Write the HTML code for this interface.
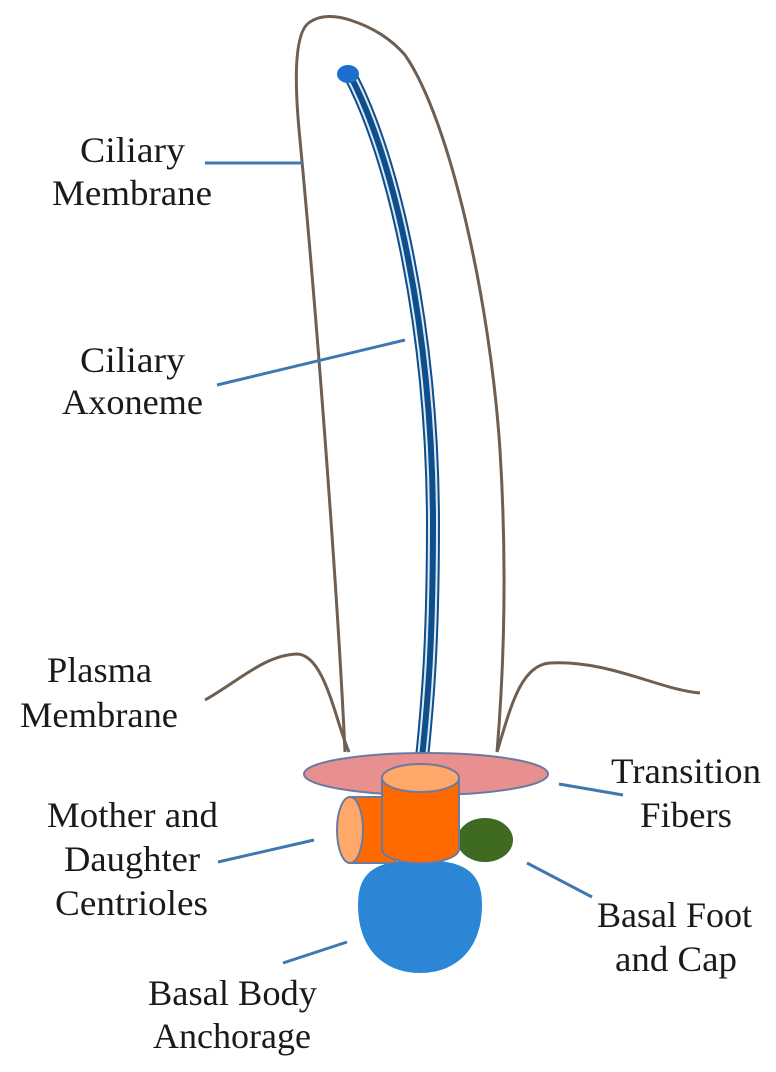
<!DOCTYPE html>
<html><head><meta charset="utf-8"><style>
html,body{margin:0;padding:0;background:#fff;}
svg{display:block;}
text{font-family:"Liberation Serif",serif;font-size:36px;fill:#1a1a1a;}
</style></head><body>
<svg width="776" height="1072" viewBox="0 0 776 1072" xmlns="http://www.w3.org/2000/svg">
<!-- ciliary membrane -->
<path d="M345,752 C338,600 318,330 300,140 C293,70 296,30 310,22 C320,15 335,15 350,20 C375,28 392,40 405,55 C450,120 490,300 500,450 C508,580 503,680 497,752" fill="none" stroke="#6e5f52" stroke-width="3"/>
<!-- plasma membrane -->
<path d="M205,700 C240,680 265,655 297,654 C325,655 335,720 349,752" fill="none" stroke="#6e5f52" stroke-width="3"/>
<path d="M497,752 C510,710 520,665 550,663 C610,660 660,690 700,693" fill="none" stroke="#6e5f52" stroke-width="3"/>
<!-- axoneme -->
<g fill="none">
<path d="M350,75 C395,160 432,330 433,520 C433,640 428,700 422,758" stroke="#0d4f8c" stroke-width="14"/>
<path d="M350,75 C395,160 432,330 433,520 C433,640 428,700 422,758" stroke="#dfe7f0" stroke-width="10"/>
<path d="M350,75 C395,160 432,330 433,520 C433,640 428,700 422,758" stroke="#0d4f8c" stroke-width="6"/>
</g>
<ellipse cx="348" cy="74" rx="11" ry="9" fill="#1c6ecf"/>
<!-- label lines -->
<g stroke="#3f78b0" stroke-width="3">
<line x1="205" y1="163" x2="303" y2="163"/>
<line x1="217" y1="385" x2="405" y2="340"/>
<line x1="559" y1="784" x2="623" y2="795"/>
<line x1="218" y1="862" x2="314" y2="840"/>
<line x1="527" y1="863" x2="592" y2="897"/>
<line x1="283" y1="963" x2="347" y2="942"/>
</g>
<!-- basal body -->
<path d="M358,905 C358,872 375,860 420,860 C465,860 482,872 482,905 C482,950 455,973 420,973 C385,973 358,950 358,905Z" fill="#2b87d6"/>
<ellipse cx="485" cy="840" rx="28" ry="22" fill="#3f6a22"/>
<ellipse cx="426" cy="774" rx="122" ry="21" fill="#e8908f" stroke="#6a7aa0" stroke-width="2"/>
<!-- left cylinder -->
<path d="M350,797 L395,797 L395,863 L350,863 Z" fill="#ff6a00" stroke="#6a7aa0" stroke-width="2"/>
<ellipse cx="350" cy="830" rx="13" ry="33" fill="#ffa86a" stroke="#6a7aa0" stroke-width="2"/>
<!-- upper cylinder -->
<path d="M382,778 L382,849 A38.5,14 0 0 0 459,849 L459,778 Z" fill="#ff6a00" stroke="#6a7aa0" stroke-width="2"/>
<ellipse cx="420.5" cy="778" rx="38.5" ry="14" fill="#ffa86a" stroke="#6a7aa0" stroke-width="2"/>
<!-- text -->
<text x="80" y="162" textLength="105" lengthAdjust="spacingAndGlyphs">Ciliary</text>
<text x="52" y="205" textLength="160" lengthAdjust="spacingAndGlyphs">Membrane</text>
<text x="80" y="372" textLength="105" lengthAdjust="spacingAndGlyphs">Ciliary</text>
<text x="62" y="414" textLength="141" lengthAdjust="spacingAndGlyphs">Axoneme</text>
<text x="47" y="682" textLength="105" lengthAdjust="spacingAndGlyphs">Plasma</text>
<text x="20" y="727" textLength="158" lengthAdjust="spacingAndGlyphs">Membrane</text>
<text x="611" y="783" textLength="150" lengthAdjust="spacingAndGlyphs">Transition</text>
<text x="640" y="827" textLength="92" lengthAdjust="spacingAndGlyphs">Fibers</text>
<text x="47" y="827" textLength="171" lengthAdjust="spacingAndGlyphs">Mother and</text>
<text x="64" y="871" textLength="136" lengthAdjust="spacingAndGlyphs">Daughter</text>
<text x="55" y="915" textLength="153" lengthAdjust="spacingAndGlyphs">Centrioles</text>
<text x="597" y="927" textLength="155" lengthAdjust="spacingAndGlyphs">Basal Foot</text>
<text x="615" y="971" textLength="122" lengthAdjust="spacingAndGlyphs">and Cap</text>
<text x="148" y="1005" textLength="169" lengthAdjust="spacingAndGlyphs">Basal Body</text>
<text x="153" y="1048" textLength="158" lengthAdjust="spacingAndGlyphs">Anchorage</text>
</svg>
</body></html>
